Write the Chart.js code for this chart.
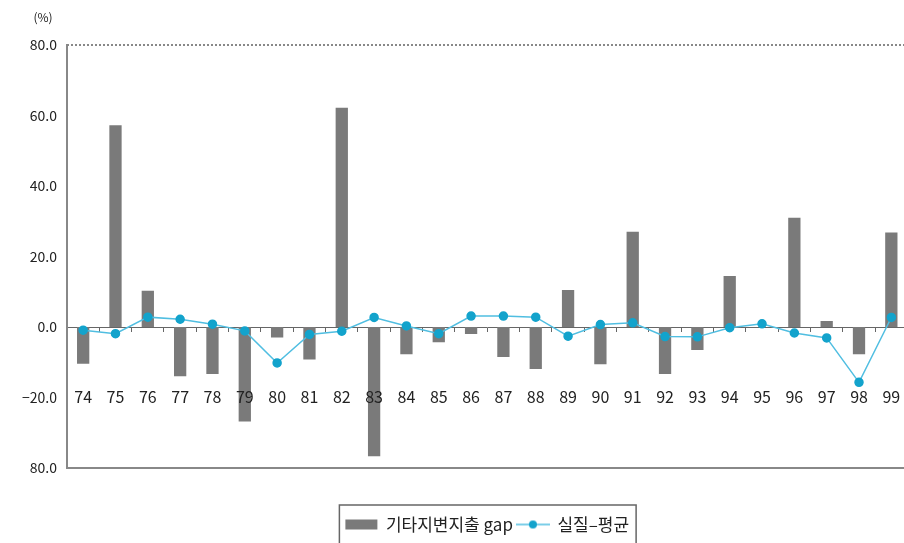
<!DOCTYPE html>
<html>
<head>
<meta charset="utf-8">
<script src="https://cdn.jsdelivr.net/npm/chart.js@4"></script>
<style>
  html, body { margin: 0; padding: 0; overflow: hidden; background: #fff; }
</style>
</head>
<body>
<canvas id="myChart" width="913" height="543"></canvas>
<script>
// 연도 (categories)
var years = ['74','75','76','77','78','79','80','81','82','83','84','85','86',
             '87','88','89','90','91','92','93','94','95','96','97','98','99'];
// 기타지변지출 gap (bars)
var gapValues = [-10.4, 57.2, 10.3, -14.0, -13.3, -26.8, -3.0, -9.2, 62.2, -36.7, -7.7, -4.3, -2.0,
                 -8.5, -11.9, 10.5, -10.6, 27.0, -13.3, -6.5, 14.5, 0, 31.0, 1.7, -7.7, 26.8];
// 실질-평균 (line)
var diffValues = [-0.9, -1.9, 2.8, 2.2, 0.8, -1.1, -10.2, -2.1, -1.2, 2.7, 0.3, -1.9, 3.1,
                  3.1, 2.8, -2.6, 0.7, 1.2, -2.7, -2.8, -0.2, 0.9, -1.7, -3.1, -15.7, 2.7];
// y tick labels as printed
var yTickValues = [-40, -20, 0, 20, 40, 60, 80];
var yTickLabels = ['80.0', '\u221220.0', '0.0', '20.0', '40.0', '60.0', '80.0'];

var FONT = "'Noto Sans CJK KR', 'DejaVu Sans', sans-serif";
var LINE_COLOR = 'rgb(80,190,225)';
var DOT_COLOR = '#13a3cc';

// 범례용 선+점 아이콘
var lineIcon = document.createElement('canvas');
lineIcon.width = 34;
lineIcon.height = 12;
(function () {
  var g = lineIcon.getContext('2d');
  g.strokeStyle = LINE_COLOR;
  g.lineWidth = 1.5;
  g.beginPath();
  g.moveTo(0, 6);
  g.lineTo(34, 6);
  g.stroke();
  g.fillStyle = DOT_COLOR;
  g.beginPath();
  g.arc(17, 6, 4, 0, Math.PI * 2);
  g.fill();
})();

// 윗 테두리, (%) 표시, 범례 박스
var decor = {
  id: 'decor',
  afterDraw: function (chart) {
    var c = chart.ctx, a = chart.chartArea;
    c.save();
    c.strokeStyle = '#888';
    c.lineWidth = 2;
    c.setLineDash([2, 2]);
    c.beginPath();
    c.moveTo(a.left, a.top);
    c.lineTo(a.right, a.top);
    c.stroke();
    c.setLineDash([]);

    c.fillStyle = '#222';
    c.font = '12px ' + FONT;
    c.textAlign = 'center';
    c.textBaseline = 'middle';
    c.fillText('(%)', 43, 17);

    var boxes = chart.legend.legendHitBoxes;
    if (boxes && boxes.length) {
      var l = Infinity, r = -Infinity, t = Infinity;
      boxes.forEach(function (b) {
        l = Math.min(l, b.left);
        r = Math.max(r, b.left + b.width);
        t = Math.min(t, b.top);
      });
      c.strokeStyle = '#666';
      c.lineWidth = 1.5;
      c.strokeRect(l - 6, t - 11, r - l + 13, 60);
    }
    c.restore();
  }
};

var ctx = document.getElementById('myChart');
var myChart = new Chart(ctx, {
  type: 'bar',
  data: {
    labels: years,
    datasets: [
      {
        type: 'bar',
        label: '기타지변지출 gap',
        data: gapValues,
        backgroundColor: '#7a7a7a',
        barPercentage: 0.38,
        categoryPercentage: 1,
        xAxisID: 'x',
        yAxisID: 'y',
        order: 2
      },
      {
        type: 'line',
        label: '실질–평균',
        data: diffValues,
        borderColor: LINE_COLOR,
        borderWidth: 1.5,
        backgroundColor: DOT_COLOR,
        pointBackgroundColor: DOT_COLOR,
        pointBorderColor: DOT_COLOR,
        pointRadius: 4,
        tension: 0,
        xAxisID: 'x',
        yAxisID: 'y',
        order: 1
      }
    ]
  },
  options: {
    responsive: false,
    animation: false,
    layout: { padding: { top: 45, right: 0, bottom: 0, left: 0 } },
    scales: {
      x: {
        position: { y: 0 },
        offset: true,
        grid: { display: true, drawOnChartArea: false, tickLength: 4, color: '#666', offset: true },
        border: { color: '#666', width: 1 },
        ticks: { z: 1, padding: 56, color: '#222', font: { family: FONT, size: 16 }, maxRotation: 0, autoSkip: false },
        afterFit: function (s) { s.paddingLeft = 0; s.paddingRight = 0; }
      },
      xb: {
        type: 'category',
        position: 'bottom',
        grid: { display: false },
        ticks: { display: false },
        border: { color: '#888', width: 2 },
        afterFit: function (s) { s.height = 44; }
      },
      y: {
        min: -40,
        max: 80,
        grid: { display: false },
        border: { color: '#888', width: 2, dash: [2, 2] },
        afterBuildTicks: function (s) {
          s.ticks = yTickValues.map(function (v) { return { value: v }; });
        },
        ticks: {
          padding: 2,
          color: '#222',
          font: { family: FONT, size: 14 },
          callback: function (v) {
            var i = yTickValues.indexOf(v);
            return i >= 0 ? yTickLabels[i] : '';
          }
        },
        afterFit: function (s) { s.width = 67; }
      }
    },
    plugins: {
      legend: {
        position: 'bottom',
        fullSize: false,
        labels: {
          color: '#222',
          font: { family: FONT, size: 17 },
          usePointStyle: true,
          pointStyleWidth: 32,
          boxHeight: 10,
          padding: 4,
          sort: function (a, b) { return a.datasetIndex - b.datasetIndex; },
          generateLabels: function (chart) {
            var items = Chart.defaults.plugins.legend.labels.generateLabels(chart);
            items.forEach(function (it) {
              it.pointStyle = it.datasetIndex === 1 ? lineIcon : 'rect';
              it.lineWidth = 0;
            });
            return items;
          }
        }
      },
      tooltip: { enabled: false }
    }
  },
  plugins: [decor]
});
</script>
</body>
</html>
